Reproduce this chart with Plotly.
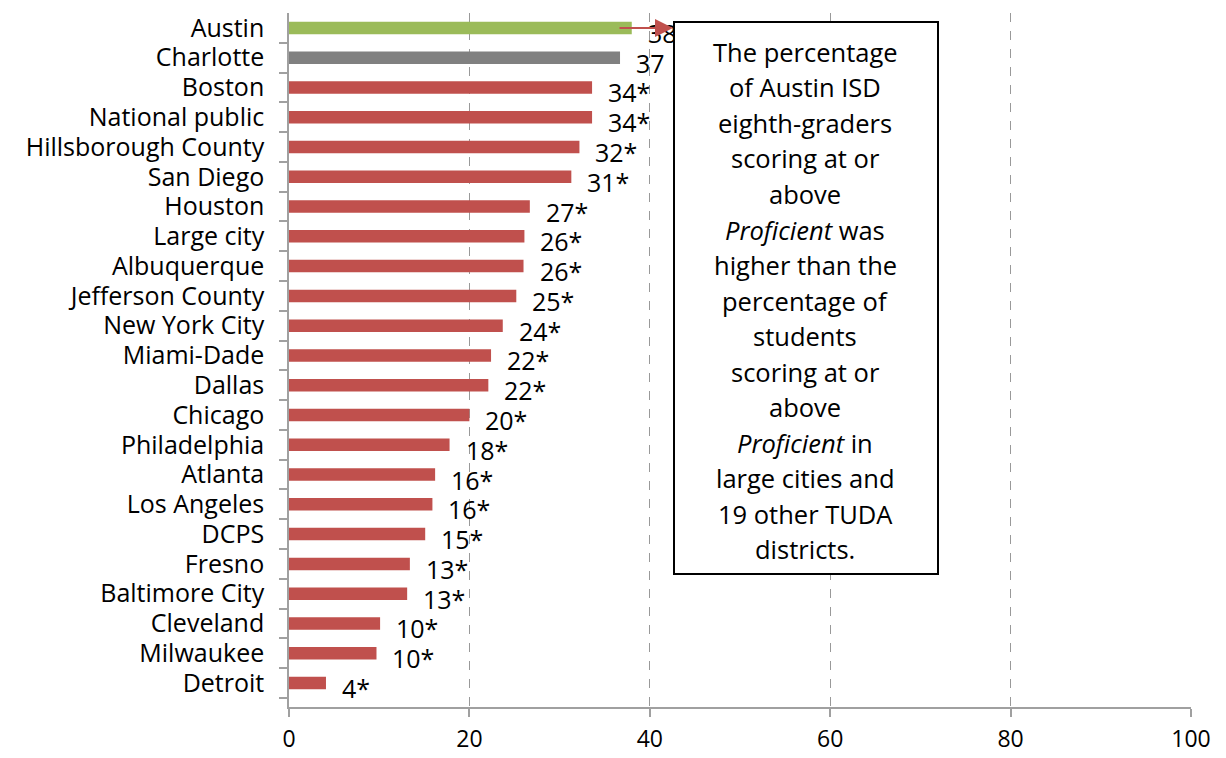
import plotly.graph_objects as go

categories = ["Austin", "Charlotte", "Boston", "National public", "Hillsborough County",
              "San Diego", "Houston", "Large city", "Albuquerque", "Jefferson County",
              "New York City", "Miami-Dade", "Dallas", "Chicago", "Philadelphia", "Atlanta",
              "Los Angeles", "DCPS", "Fresno", "Baltimore City", "Cleveland", "Milwaukee", "Detroit"]
values = [38.0, 36.7, 33.6, 33.6, 32.2, 31.3, 26.7, 26.1, 26.0, 25.2, 23.7, 22.4, 22.1,
          20.0, 17.8, 16.2, 15.9, 15.1, 13.4, 13.1, 10.1, 9.7, 4.1]
labels = ["38", "37", "34*", "34*", "32*", "31*", "27*", "26*", "26*", "25*", "24*", "22*",
          "22*", "20*", "18*", "16*", "16*", "15*", "13*", "13*", "10*", "10*", "4*"]
colors = ["#9BBB59", "#808080"] + ["#C0504D"] * (len(categories) - 2)
x_ticks = [0, 20, 40, 60, 80, 100]
box_lines = ["The percentage", "of Austin ISD", "eighth-graders", "scoring at or", "above",
             "<i>Proficient</i> was", "higher than the", "percentage of", "students",
             "scoring at or", "above", "<i>Proficient</i> in", "large cities and",
             "19 other TUDA", "districts."]

FONT = "Open Sans"
OFF = 8  # page body margin
W, H = 1226, 758
# target plot area in screenshot pixels: x 289..1191, y 10..707
PL, PR, PT, PB = 289, 1191, 10, 707
L, T = PL - OFF, PT - OFF
R = (W + OFF) - PR
B = (H + OFF) - PB
PW, PH = PR - PL, PB - PT

def px_x(p):
    return (p - PL) / PW

def px_y(p):
    return (PB - p) / PH

fig = go.Figure()
fig.add_trace(go.Bar(
    x=values, y=categories, orientation="h",
    marker=dict(color=colors, line=dict(width=0)),
    hoverinfo="x+y",
))

annotations = []
for v, c, t in zip(values, categories, labels):
    annotations.append(dict(x=v, y=c, xref="x", yref="y", text=t, showarrow=False,
                            xanchor="left", yanchor="middle", xshift=14, yshift=-5,
                            font=dict(family=FONT, size=25, color="#000000")))

# text box (drawn after labels so it covers the "38")
annotations.append(dict(x=px_x(673), y=px_y(18), xref="paper", yref="paper",
                        xanchor="left", yanchor="top", text=" ", showarrow=False,
                        width=262, height=550, borderpad=0, borderwidth=2,
                        bordercolor="#000000", bgcolor="#FFFFFF"))

# arrow from Austin bar to box
annotations.append(dict(x=px_x(673), y=categories[0], xref="paper", yref="y",
                        ax=-55, ay=0, axref="pixel", ayref="pixel", text="",
                        showarrow=True, arrowhead=2, arrowsize=1.8, arrowwidth=2,
                        arrowcolor="#C0504D"))

# text box lines
top_line, spacing = 49, 35.7
for i, line in enumerate(box_lines):
    annotations.append(dict(x=px_x(805), y=px_y(top_line + i * spacing), xref="paper", yref="paper",
                            text=line, showarrow=False, xanchor="center", yanchor="middle",
                            font=dict(family=FONT, size=25.5, color="#000000")))

fig.update_layout(
    width=W, height=H,
    margin=dict(l=L, r=R, t=T, b=B),
    paper_bgcolor="#FFFFFF", plot_bgcolor="#FFFFFF",
    showlegend=False, bargap=0.58,
    font=dict(family=FONT, size=25, color="#000000"),
    annotations=annotations,
)
fig.update_xaxes(range=[0, 100], tickvals=x_ticks, ticktext=[str(v) for v in x_ticks],
                 showgrid=True, gridcolor="#999999", griddash="dash", gridwidth=1.2,
                 showline=True, linecolor="#A0A0A0", linewidth=1.5,
                 ticks="outside", ticklen=8, tickcolor="#A0A0A0", tickwidth=1.5,
                 ticklabelstandoff=3, zeroline=False,
                 tickfont=dict(family=FONT, size=23, color="#000000"))
fig.update_yaxes(categoryorder="array", categoryarray=categories[::-1],
                 tickmode="array", tickvals=categories, ticktext=categories,
                 autorange=True, showline=True, linecolor="#A0A0A0", linewidth=1.5,
                 ticks="outside", tickson="boundaries", ticklen=8, tickcolor="#A0A0A0",
                 tickwidth=1.5, showgrid=False, ticklabelstandoff=18,
                 tickfont=dict(family=FONT, size=25, color="#000000"))

fig.write_html("out.html")
